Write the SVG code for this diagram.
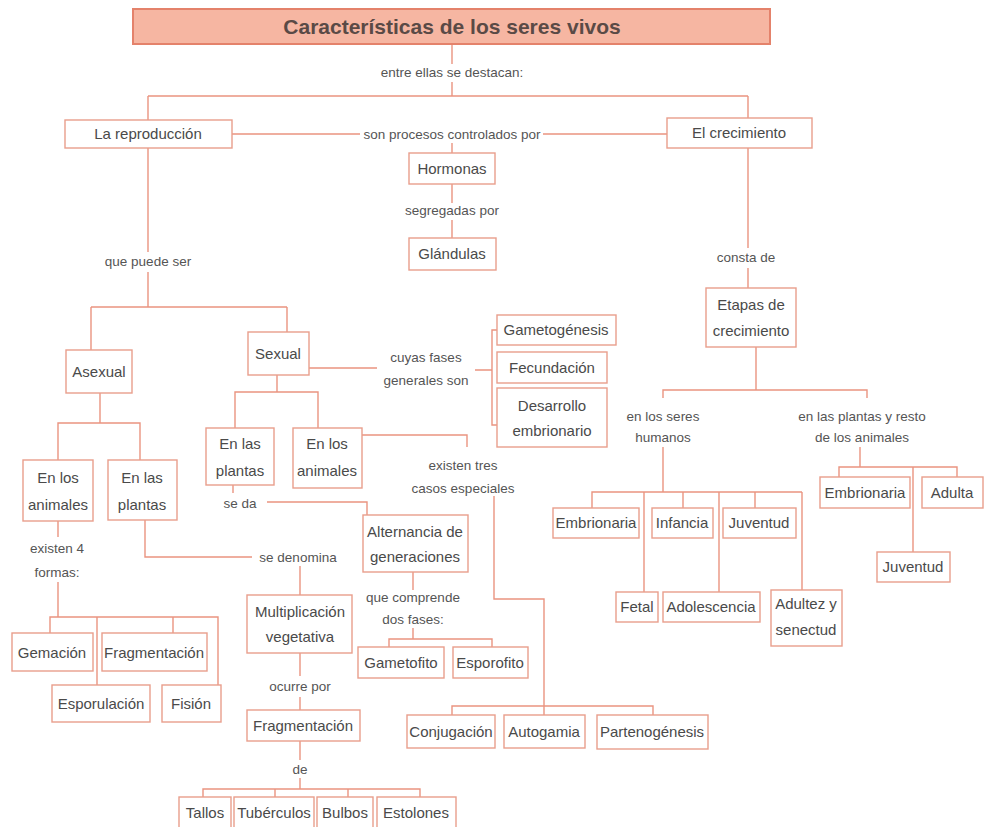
<svg xmlns="http://www.w3.org/2000/svg" width="985" height="827" viewBox="0 0 985 827">
<style>
.bg{fill:#ffffff}
.box{fill:#ffffff;stroke:#e99e8c;stroke-width:1.4}
.ttl{fill:#f6b6a2;stroke:#e4826b;stroke-width:2}
.t{font-family:"Liberation Sans",Arial,sans-serif;font-size:15px;fill:#4a4a4a;text-anchor:middle}
.l{font-family:"Liberation Sans",Arial,sans-serif;font-size:13.5px;fill:#555555;text-anchor:middle}
.h{font-family:"Liberation Sans",Arial,sans-serif;font-size:21px;font-weight:bold;fill:#5a4a46;text-anchor:middle}
.c{fill:none;stroke:#ea9480;stroke-width:1.4}
</style>
<rect class="bg" x="0" y="0" width="985" height="827"/>
<g id="connectors">
<path class="c" d="M452 44V64M452 82V96M148 96H748M148 96V120M748 96V118"/>
<path class="c" d="M232 134H360M543 134H667M452 143V153"/>
<path class="c" d="M452 184V203M452 220V238"/>
<path class="c" d="M148 148V252M148 272V307M91 307H287M91 307V350M287 307V332"/>
<path class="c" d="M309 368H377M475 370H492M497 330H492V425H497"/>
<path class="c" d="M748 148V248M748 268V288"/>
<path class="c" d="M756 347V390M663 398V390H867V398"/>
<path class="c" d="M663 447V492M592 508V492H802M683 492V508M755 492V508M644 492V592M719 492V592M802 492V590"/>
<path class="c" d="M860 447V467M839 477V467H957V477M913 467V552"/>
<path class="c" d="M100 393V423M58 460V423H140V460"/>
<path class="c" d="M277 375V392M235 428V392H318V428"/>
<path class="c" d="M362 435H467V447"/>
<path class="c" d="M494 496V599H544V715M452 715V706H653V715"/>
<path class="c" d="M233 485V493M267 502H367V515"/>
<path class="c" d="M58 521V537M58 582V617M50 633V617H218V685M97 617V685M173 617V633"/>
<path class="c" d="M145 520V557H252M300 566V595"/>
<path class="c" d="M413 572V590M413 628V639M389 647V639H492V647"/>
<path class="c" d="M300 653V676M300 697V710"/>
<path class="c" d="M300 741V760M300 778V789M203 797V789H420V797M275 789V797M348 789V797"/>
</g>
<g id="labels">
<text class="l" x="452" y="77">entre ellas se destacan:</text>
<text class="l" x="452" y="139">son procesos controlados por</text>
<text class="l" x="452" y="215">segregadas por</text>
<text class="l" x="148" y="266">que puede ser</text>
<text class="l" x="746" y="262">consta de</text>
<text class="l" x="426" y="362">cuyas fases<tspan x="426" dy="23">generales son</tspan></text>
<text class="l" x="663" y="421">en los seres<tspan x="663" dy="21">humanos</tspan></text>
<text class="l" x="862" y="421">en las plantas y resto<tspan x="862" dy="21">de los animales</tspan></text>
<text class="l" x="463" y="470">existen tres<tspan x="463" dy="23">casos especiales</tspan></text>
<text class="l" x="240" y="508">se da</text>
<text class="l" x="57" y="553">existen 4<tspan x="57" dy="24">formas:</tspan></text>
<text class="l" x="298" y="562">se denomina</text>
<text class="l" x="413" y="602">que comprende<tspan x="413" dy="22">dos fases:</tspan></text>
<text class="l" x="300" y="691">ocurre por</text>
<text class="l" x="300" y="774">de</text>
</g>
<g id="title"><rect class="ttl" x="133" y="9" width="637" height="35"/><text class="h" x="452" y="34">Características de los seres vivos</text></g>
<g id="reproduccion"><rect class="box" x="65" y="120" width="167" height="28"/><text class="t" x="148" y="139">La reproducción</text></g>
<g id="crecimiento"><rect class="box" x="667" y="118" width="145" height="30"/><text class="t" x="739" y="138">El crecimiento</text></g>
<g id="hormonas"><rect class="box" x="409" y="153" width="86" height="31"/><text class="t" x="452" y="174">Hormonas</text></g>
<g id="glandulas"><rect class="box" x="409" y="238" width="87" height="32"/><text class="t" x="452" y="259">Glándulas</text></g>
<g id="asexual"><rect class="box" x="66" y="350" width="66" height="43"/><text class="t" x="99" y="377">Asexual</text></g>
<g id="sexual"><rect class="box" x="248" y="332" width="61" height="43"/><text class="t" x="278" y="359">Sexual</text></g>
<g id="gametogenesis"><rect class="box" x="497" y="315" width="119" height="30"/><text class="t" x="556" y="335">Gametogénesis</text></g>
<g id="fecundacion"><rect class="box" x="497" y="352" width="110" height="31"/><text class="t" x="552" y="373">Fecundación</text></g>
<g id="desarrollo"><rect class="box" x="497" y="388" width="110" height="59"/><text class="t" x="552" y="411">Desarrollo<tspan x="552" dy="25">embrionario</tspan></text></g>
<g id="etapas"><rect class="box" x="706" y="288" width="90" height="59"/><text class="t" x="751" y="310">Etapas de<tspan x="751" dy="26">crecimiento</tspan></text></g>
<g id="asex-animales"><rect class="box" x="23" y="460" width="70" height="61"/><text class="t" x="58" y="483">En los<tspan x="58" dy="27">animales</tspan></text></g>
<g id="asex-plantas"><rect class="box" x="108" y="460" width="69" height="60"/><text class="t" x="142" y="483">En las<tspan x="142" dy="27">plantas</tspan></text></g>
<g id="sex-plantas"><rect class="box" x="206" y="428" width="68" height="57"/><text class="t" x="240" y="449">En las<tspan x="240" dy="27">plantas</tspan></text></g>
<g id="sex-animales"><rect class="box" x="293" y="428" width="69" height="60"/><text class="t" x="327" y="449">En los<tspan x="327" dy="27">animales</tspan></text></g>
<g id="alternancia"><rect class="box" x="363" y="515" width="105" height="57"/><text class="t" x="415" y="537">Alternancia de<tspan x="415" dy="25">generaciones</tspan></text></g>
<g id="multiplicacion"><rect class="box" x="247" y="595" width="105" height="58"/><text class="t" x="300" y="617">Multiplicación<tspan x="300" dy="25">vegetativa</tspan></text></g>
<g id="gemacion"><rect class="box" x="12" y="633" width="81" height="38"/><text class="t" x="52" y="658">Gemación</text></g>
<g id="fragmentacion-a"><rect class="box" x="102" y="633" width="105" height="38"/><text class="t" x="154" y="658">Fragmentación</text></g>
<g id="esporulacion"><rect class="box" x="52" y="685" width="98" height="37"/><text class="t" x="101" y="709">Esporulación</text></g>
<g id="fision"><rect class="box" x="162" y="685" width="59" height="37"/><text class="t" x="191" y="709">Fisión</text></g>
<g id="gametofito"><rect class="box" x="358" y="647" width="86" height="31"/><text class="t" x="401" y="668">Gametofito</text></g>
<g id="esporofito"><rect class="box" x="453" y="647" width="75" height="31"/><text class="t" x="490" y="668">Esporofito</text></g>
<g id="fragmentacion-b"><rect class="box" x="247" y="710" width="113" height="31"/><text class="t" x="303" y="731">Fragmentación</text></g>
<g id="tallos"><rect class="box" x="179" y="797" width="52" height="32"/><text class="t" x="205" y="818">Tallos</text></g>
<g id="tuberculos"><rect class="box" x="234" y="797" width="80" height="32"/><text class="t" x="274" y="818">Tubérculos</text></g>
<g id="bulbos"><rect class="box" x="317" y="797" width="56" height="32"/><text class="t" x="345" y="818">Bulbos</text></g>
<g id="estolones"><rect class="box" x="377" y="797" width="79" height="32"/><text class="t" x="416" y="818">Estolones</text></g>
<g id="conjugacion"><rect class="box" x="407" y="715" width="88" height="33"/><text class="t" x="451" y="737">Conjugación</text></g>
<g id="autogamia"><rect class="box" x="504" y="715" width="81" height="33"/><text class="t" x="544" y="737">Autogamia</text></g>
<g id="partenogenesis"><rect class="box" x="597" y="715" width="111" height="34"/><text class="t" x="652" y="737">Partenogénesis</text></g>
<g id="embrionaria-h"><rect class="box" x="553" y="508" width="86" height="30"/><text class="t" x="596" y="528">Embrionaria</text></g>
<g id="infancia"><rect class="box" x="652" y="508" width="61" height="30"/><text class="t" x="682" y="528">Infancia</text></g>
<g id="juventud-h"><rect class="box" x="723" y="508" width="73" height="30"/><text class="t" x="759" y="528">Juventud</text></g>
<g id="fetal"><rect class="box" x="616" y="592" width="42" height="30"/><text class="t" x="637" y="612">Fetal</text></g>
<g id="adolescencia"><rect class="box" x="663" y="592" width="97" height="30"/><text class="t" x="711" y="612">Adolescencia</text></g>
<g id="adultez"><rect class="box" x="771" y="590" width="71" height="56"/><text class="t" x="806" y="609">Adultez y<tspan x="806" dy="26">senectud</tspan></text></g>
<g id="embrionaria-p"><rect class="box" x="820" y="477" width="90" height="31"/><text class="t" x="865" y="498">Embrionaria</text></g>
<g id="adulta"><rect class="box" x="922" y="477" width="61" height="31"/><text class="t" x="952" y="498">Adulta</text></g>
<g id="juventud-p"><rect class="box" x="877" y="552" width="73" height="30"/><text class="t" x="913" y="572">Juventud</text></g>
</svg>
